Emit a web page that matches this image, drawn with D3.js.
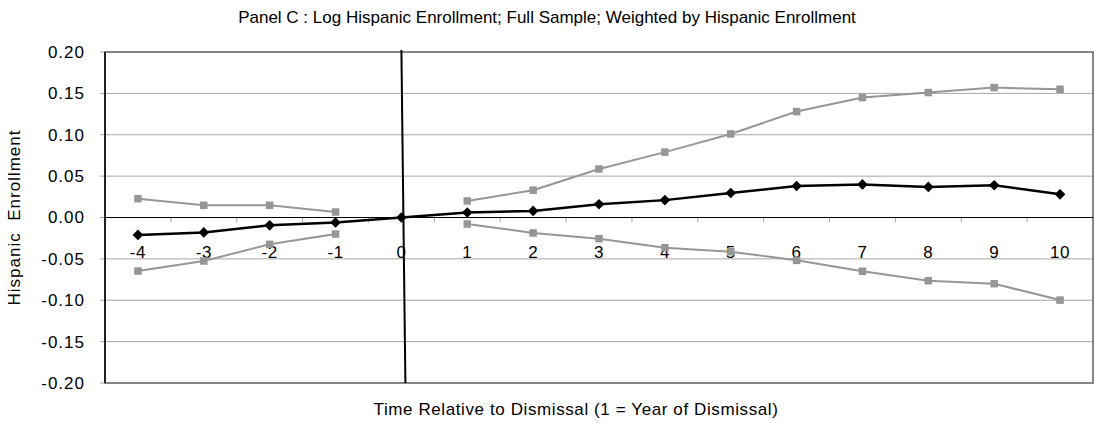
<!DOCTYPE html>
<html lang="en">
<head>
  <meta charset="UTF-8">
  <title>Panel C</title>
  <style type="text/css" media="all">
    body { margin: 0; background: #fff; }
    svg text { font-family: Arial, "Liberation Sans", sans-serif; fill: #000; }
  </style>
</head>
<body>
  <div id="graph"></div>
  <script src="https://cdn.jsdelivr.net/npm/d3@7/dist/d3.min.js" charset="utf-8"></script>
  <script>
    // years relative to dismissal
    var categories = [-4, -3, -2, -1, 0, 1, 2, 3, 4, 5, 6, 7, 8, 9, 10];
    // point estimates (black diamonds)
    var estimate = [-0.021, -0.018, -0.0095, -0.006, 0, 0.006, 0.008, 0.016, 0.021, 0.0296, 0.038, 0.040, 0.037, 0.039, 0.028];
    // confidence bands (grey squares), no value at year 0
    var upperBound = [0.0227, 0.0147, 0.0147, 0.0066, null, 0.020, 0.033, 0.0586, 0.079, 0.101, 0.128, 0.145, 0.151, 0.157, 0.155];
    var lowerBound = [-0.0647, -0.0526, -0.0324, -0.020, null, -0.0079, -0.0187, -0.0256, -0.0365, -0.0413, -0.0518, -0.065, -0.0764, -0.080, -0.0998];
    var yTicks = [-0.20, -0.15, -0.10, -0.05, 0.00, 0.05, 0.10, 0.15, 0.20];

    var width = 1094, height = 423;
    var margins = { top: 52, right: 1, bottom: 40, left: 105 };

    var svg = d3.select('#graph').append('svg')
        .attr('width', width)
        .attr('height', height);

    var x = d3.scaleBand()
        .domain(categories)
        .range([margins.left, width - margins.right]);
    var y = d3.scaleLinear()
        .domain([-0.2, 0.2])
        .range([height - margins.bottom, margins.top]);

    function cx(c) { return x(c) + x.bandwidth() / 2; }

    // gridlines
    svg.append('g').selectAll('line')
      .data(yTicks)
      .enter().append('line')
        .attr('x1', margins.left - 5)
        .attr('x2', width - margins.right)
        .attr('y1', function(d) { return y(d); })
        .attr('y2', function(d) { return y(d); })
        .attr('stroke', '#a6a6a6')
        .attr('stroke-width', 1);

    // plot frame
    svg.append('rect')
        .attr('x', margins.left)
        .attr('y', y(0.2))
        .attr('width', width - margins.right - margins.left)
        .attr('height', y(-0.2) - y(0.2))
        .attr('fill', 'none')
        .attr('stroke', '#858585')
        .attr('stroke-width', 2);
    svg.append('line')
        .attr('x1', margins.left).attr('x2', margins.left)
        .attr('y1', y(0.2)).attr('y2', y(-0.2))
        .attr('stroke', '#000')
        .attr('stroke-width', 1.5);

    // y labels
    svg.append('g').selectAll('text')
      .data(yTicks)
      .enter().append('text')
        .attr('x', margins.left - 20)
        .attr('y', function(d) { return y(d); })
        .attr('dy', '0.35em')
        .attr('text-anchor', 'end')
        .style('font-size', '17px')
        .style('letter-spacing', '1px')
        .text(function(d) { return d.toFixed(2); });

    // category ticks hanging from the zero line
    var boundaries = categories.map(function(c) { return x(c); }).slice(1);
    svg.append('g').selectAll('line')
      .data(boundaries)
      .enter().append('line')
        .attr('x1', function(d) { return d; })
        .attr('x2', function(d) { return d; })
        .attr('y1', y(0))
        .attr('y2', y(0) + 5)
        .attr('stroke', '#a6a6a6');

    svg.append('line')
        .attr('x1', margins.left)
        .attr('x2', width - margins.right)
        .attr('y1', y(0))
        .attr('y2', y(0))
        .attr('stroke', '#000')
        .attr('stroke-width', 1);

    // x labels
    svg.append('g').selectAll('text')
      .data(categories)
      .enter().append('text')
        .attr('x', function(d) { return cx(d); })
        .attr('y', y(0) + 40)
        .attr('text-anchor', 'middle')
        .style('font-size', '17px')
        .style('letter-spacing', '0.5px')
        .text(function(d) { return d; });

    function series(values, color, lw) {
      var pts = categories.map(function(c, i) { return { c: c, v: values[i] }; });
      var line = d3.line()
          .defined(function(d) { return d.v !== null; })
          .x(function(d) { return cx(d.c); })
          .y(function(d) { return y(d.v); });
      svg.append('path')
          .datum(pts)
          .attr('d', line)
          .attr('fill', 'none')
          .attr('stroke', color)
          .attr('stroke-width', lw);
      return pts.filter(function(d) { return d.v !== null; });
    }

    var grey = '#969696';
    [upperBound, lowerBound].forEach(function(vals) {
      var pts = series(vals, grey, 2);
      svg.append('g').selectAll('rect')
        .data(pts)
        .enter().append('rect')
          .attr('x', function(d) { return cx(d.c) - 3.75; })
          .attr('y', function(d) { return y(d.v) - 3.75; })
          .attr('width', 7.5)
          .attr('height', 7.5)
          .attr('fill', grey);
    });

    // dismissal year marker
    svg.append('line')
        .attr('x1', cx(0))
        .attr('x2', cx(0) + 4)
        .attr('y1', y(0.2) - 2)
        .attr('y2', y(-0.2))
        .attr('stroke', '#000')
        .attr('stroke-width', 2);

    var estPts = series(estimate, '#000', 2.5);
    var diamond = d3.symbol().type(d3.symbolDiamond2).size(72);
    svg.append('g').selectAll('path')
      .data(estPts)
      .enter().append('path')
        .attr('d', diamond)
        .attr('transform', function(d) {
          return 'translate(' + cx(d.c) + ',' + y(d.v) + ')';
        })
        .attr('fill', '#000');

    // titles
    svg.append('text')
        .attr('x', width / 2)
        .attr('y', 23)
        .attr('text-anchor', 'middle')
        .style('font-size', '17px')
        .text('Panel C : Log Hispanic Enrollment; Full Sample; Weighted by Hispanic Enrollment');

    svg.append('text')
        .attr('x', 576)
        .attr('y', 415)
        .attr('text-anchor', 'middle')
        .style('font-size', '17px')
        .style('letter-spacing', '0.6px')
        .text('Time Relative to Dismissal (1 = Year of Dismissal)');

    svg.append('text')
        .attr('transform', 'translate(20,' + y(0) + ') rotate(-90)')
        .attr('text-anchor', 'middle')
        .style('font-size', '17px')
        .style('letter-spacing', '1px')
        .style('white-space', 'pre')
        .text('Hispanic  Enrollment');
  </script>
</body>
</html>
